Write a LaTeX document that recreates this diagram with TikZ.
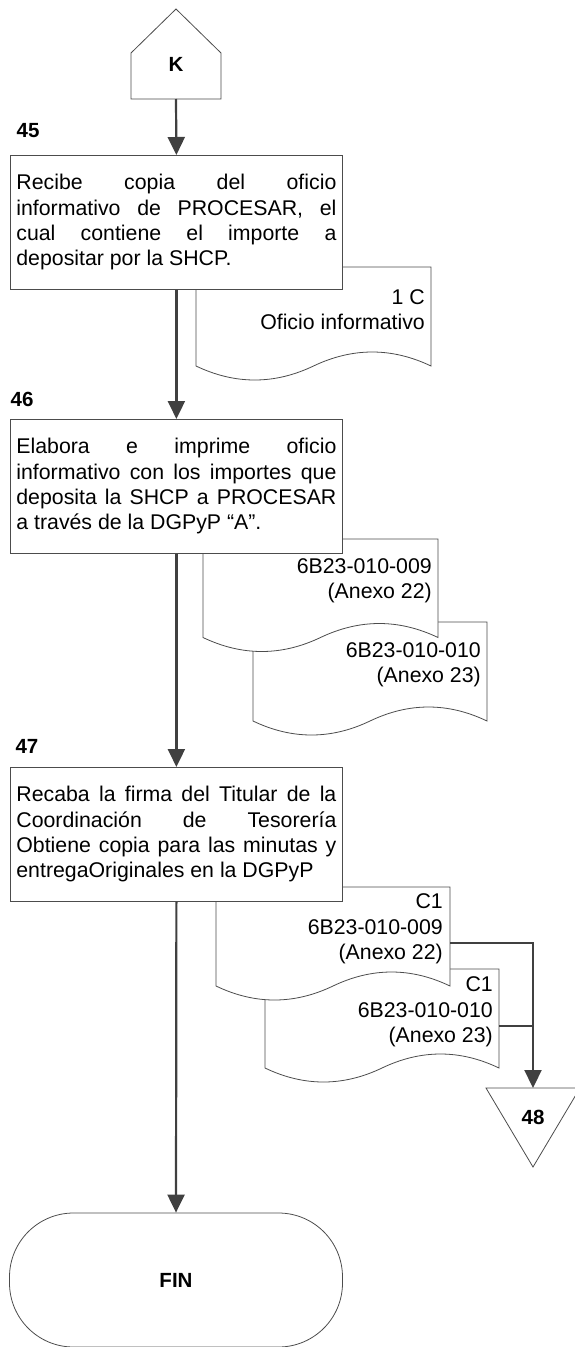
\documentclass[tikz,border=0pt]{standalone}
\usepackage{fontspec}
\setmainfont{Liberation Sans}
\usetikzlibrary{arrows.meta}

\newcommand{\bodyfont}{\fontsize{21.3}{25.3}\selectfont\sloppy}
\newcommand{\numfont}{\fontsize{20.5}{24}\selectfont\bfseries}
\newcommand{\docshape}[4]{%
\filldraw[shapeline, fill=white] (#1,#2) -- (#3,#2) -- (#3,#4)
  .. controls ({#1+5*(#3-#1)/6},{#4-18.67}) and ({#1+2*(#3-#1)/3},{#4-18.67}) .. ({(#1+#3)/2},#4)
  .. controls ({#1+(#3-#1)/3},{#4+18.67}) and ({#1+(#3-#1)/6},{#4+18.67}) .. (#1,#4) -- cycle;}

\tikzset{
  shapeline/.style={draw=black!70, line width=0.8pt},
  stepbox/.style={shapeline, fill=white, rectangle, anchor=north west, minimum width=332pt, minimum height=134pt, text width=320pt, inner xsep=6pt, align=justify, font=\bodyfont},
  doctext/.style={anchor=east, inner sep=0pt, align=right, font=\bodyfont},
  numlbl/.style={anchor=west, inner sep=0pt, font=\numfont},
  flowline/.style={draw=black!75, line width=2.2pt},
  flow/.style={flowline, -{Triangle[length=18pt,width=17pt]}},
}

\begin{document}
\begin{tikzpicture}[x=1pt,y=-1pt]
\useasboundingbox (0,0) rectangle (574,1347);

\filldraw[shapeline, fill=white] (131,99) -- (131,53) -- (176,9) -- (221,53) -- (221,99) -- cycle;
\node[font=\numfont] (k) at (176,64) {K};
\coordinate (kbot) at (176,99);

\node[numlbl] (n45) at (16.5,131) {45};
\docshape{196}{267}{431}{366}
\node[doctext] (d45) at (425,310) {1 C\\Oficio informativo};
\node[stepbox] (b45) at (10,155) {Recibe copia del oficio\linebreak informativo de PROCESAR, el\linebreak cual contiene el importe a\linebreak depositar por la SHCP.};

\node[numlbl] (n46) at (10.5,399) {46};
\docshape{253}{622}{487}{721}
\node[doctext] (d46b) at (481,665) {6B23-010-010\\(Anexo 23)};
\docshape{203}{539}{438}{637.5}
\node[doctext] (d46a) at (432,581) {6B23-010-009\\(Anexo 22)};
\node[stepbox] (b46) at (10,419) {Elabora e imprime oficio\linebreak informativo con los importes que\linebreak deposita la SHCP a PROCESAR\linebreak a través de la DGPyP “A”.};

\node[numlbl] (n47) at (15.4,746) {47};
\docshape{265}{969}{499}{1068}
\node[doctext] (d47b) at (493,1012) {C1\\6B23-010-010\\(Anexo 23)};
\docshape{216}{887}{450}{986}
\node[doctext] (d47a) at (443,929) {C1\\6B23-010-009\\(Anexo 22)};
\node[stepbox] (b47) at (10,767) {Recaba la firma del Titular de la\linebreak Coordinación de Tesorería\linebreak Obtiene copia para las minutas y\linebreak entregaOriginales en la DGPyP};

\filldraw[shapeline, fill=white] (486,1088) -- (580,1088) -- (533,1167) -- cycle;
\node[font=\numfont] (t48) at (533,1117) {48};
\coordinate (t48top) at (533,1088);
\coordinate (d47aout) at (450,943);
\coordinate (d47bout) at (499,1026);

\node[shapeline, rounded corners=64pt, minimum width=333pt, minimum height=134pt, font=\numfont] (fin) at (176,1280) {FIN};

\draw[flow] (kbot) -- (b45.north);
\draw[flow] (b45.south) -- (b46.north);
\draw[flow] (b46.south) -- (b47.north);
\draw[flow] (b47.south) -- (fin.north);
\draw[flow] (d47aout) -| (t48top);
\draw[flowline] (d47bout) -- (d47bout -| t48top);
\end{tikzpicture}
\end{document}
